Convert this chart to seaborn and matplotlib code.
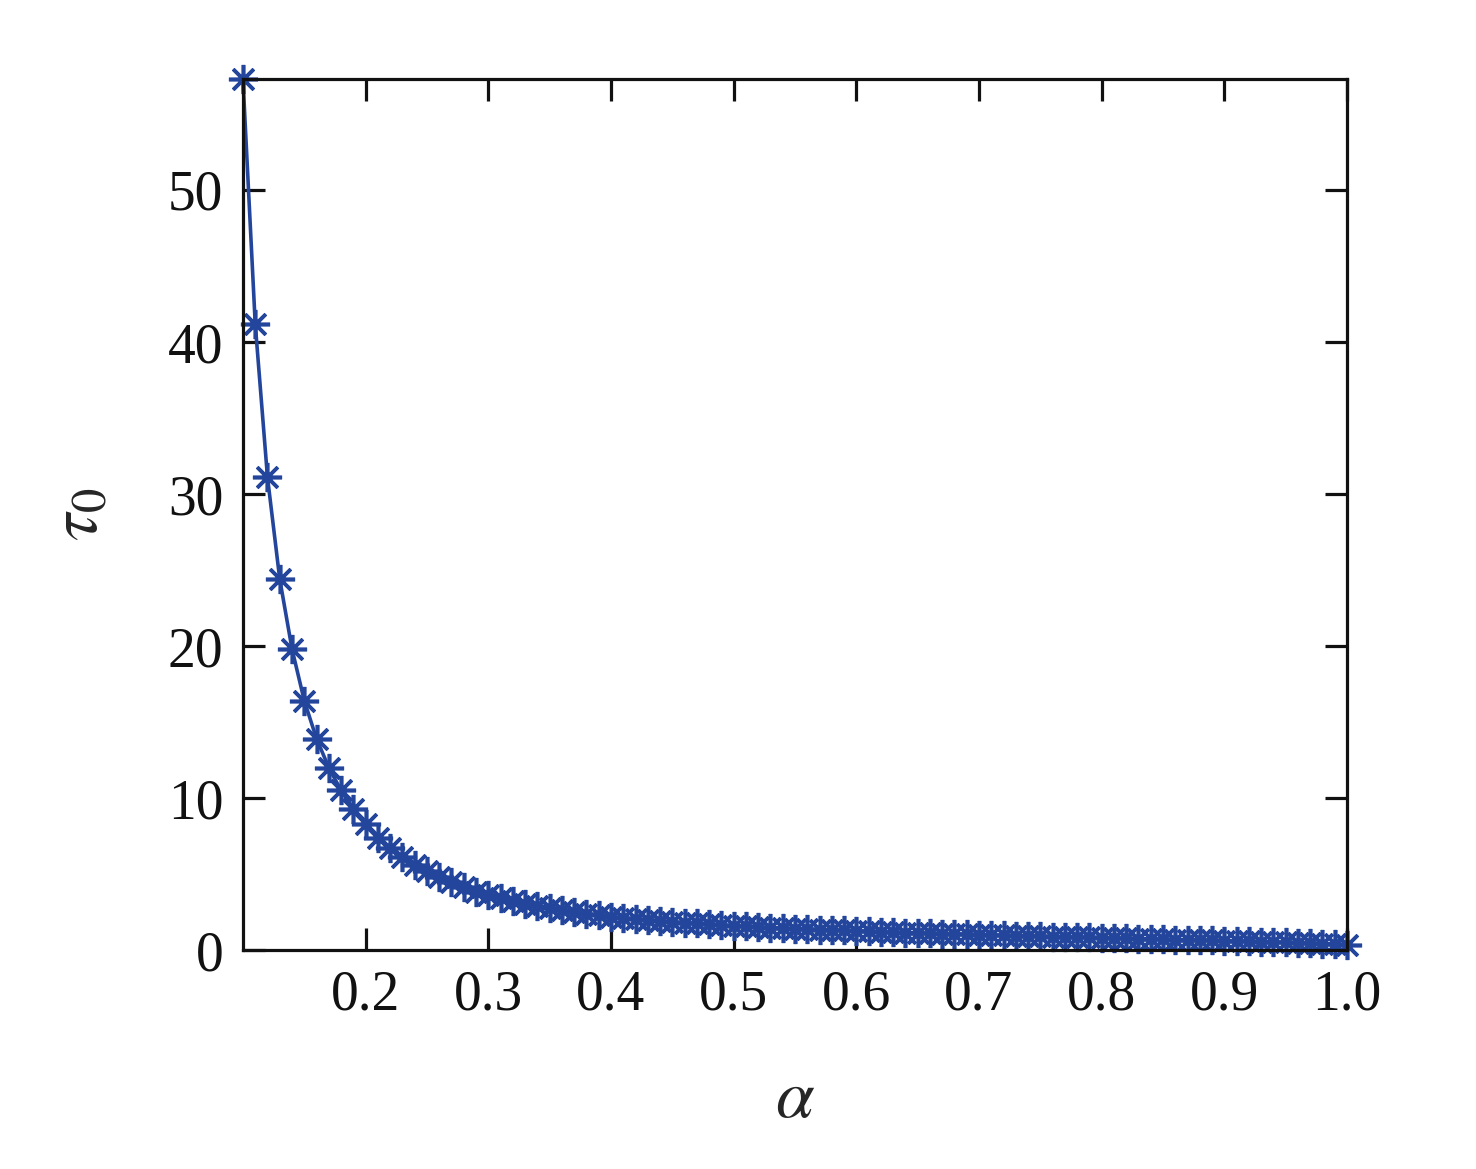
import numpy as np
import pandas as pd
import matplotlib
matplotlib.use("Agg")
import matplotlib.pyplot as plt
import seaborn as sns

# alpha grid, step 0.01
alpha = np.linspace(0.1, 1.0, 91)
tau0 = [
    57.3, 41.2, 31.1, 24.4, 19.8, 16.4, 13.9, 12.0, 10.5, 9.3,
    8.3, 7.4, 6.7, 6.1, 5.6, 5.2, 4.8, 4.45, 4.15, 3.85,
    3.6, 3.4, 3.2, 3.05, 2.9, 2.75, 2.62, 2.5, 2.4, 2.3,
    2.2, 2.12, 2.05, 1.98, 1.92, 1.86, 1.8, 1.75, 1.7, 1.65,
    1.6, 1.56, 1.52, 1.48, 1.44, 1.41, 1.38, 1.35, 1.32, 1.29,
    1.26, 1.23, 1.2, 1.18, 1.15, 1.13, 1.1, 1.08, 1.06, 1.03,
    1.01, 0.99, 0.97, 0.95, 0.93, 0.91, 0.89, 0.87, 0.85, 0.83,
    0.81, 0.79, 0.77, 0.75, 0.73, 0.71, 0.69, 0.67, 0.65, 0.63,
    0.61, 0.59, 0.57, 0.55, 0.53, 0.5, 0.48, 0.46, 0.43, 0.4,
    0.35,
]
xticks = [0.2, 0.3, 0.4, 0.5, 0.6, 0.7, 0.8, 0.9, 1.0]
yticks = [0, 10, 20, 30, 40, 50]

df = pd.DataFrame({"alpha": alpha, "tau0": tau0})

sns.set_theme(style="ticks")
plt.rcParams["font.family"] = ["Liberation Serif", "DejaVu Serif"]
plt.rcParams["mathtext.fontset"] = "stix"

fig = plt.figure(figsize=(14.76, 11.69), dpi=100)
ax = fig.add_axes([0.1646, 0.1873, 0.748, 0.7451])

sns.lineplot(data=df, x="alpha", y="tau0", ax=ax, color="#23459b",
             linewidth=2.6, marker=(8, 2, 0), markersize=21,
             markeredgewidth=2.6, markeredgecolor="#23459b", clip_on=False)

ax.set_xlim(0.1, 1.0)
ax.set_ylim(0, 57.3)
ax.set_xticks(xticks)
ax.set_xticklabels([f"{t:.1f}" for t in xticks])
ax.set_yticks(yticks)

for s in ax.spines.values():
    s.set_linewidth(2.3)
    s.set_color("#111111")
ax.tick_params(direction="in", length=16, width=2.3, colors="#111111",
               labelsize=40, top=True, right=True, pad=14)

ax.set_xlabel(r"$\alpha$", fontsize=50, labelpad=34)
ax.set_ylabel(r"$\tau_0$", fontsize=50, labelpad=40)

fig.savefig("out.png", dpi=100)
